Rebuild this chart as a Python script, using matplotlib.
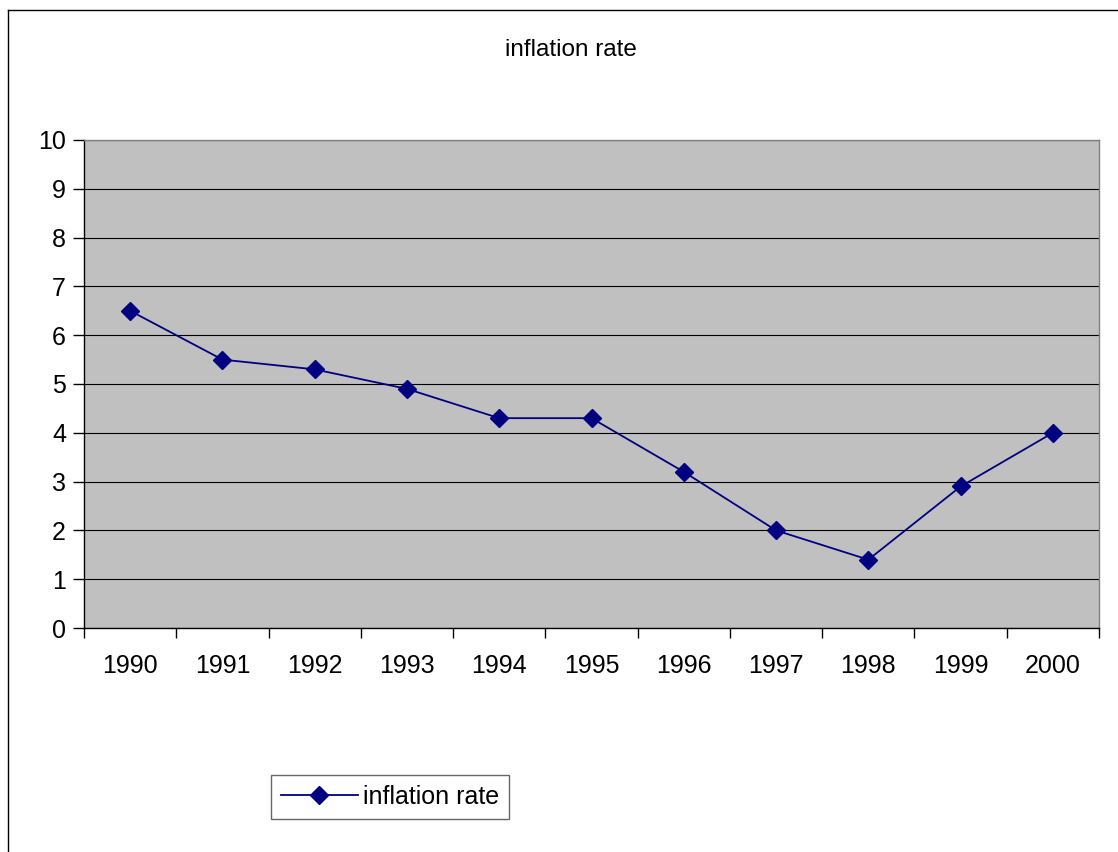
import matplotlib
matplotlib.use("Agg")
import matplotlib.pyplot as plt
from matplotlib.lines import Line2D
import numpy as np

years = ["1990", "1991", "1992", "1993", "1994", "1995", "1996", "1997", "1998", "1999", "2000"]
rates = [6.5, 5.5, 5.3, 4.9, 4.3, 4.3, 3.2, 2.0, 1.4, 2.9, 4.0]
y_ticks = list(range(0, 11))

W, H = 1118, 852
plt.rcParams["font.family"] = ["Liberation Sans", "DejaVu Sans"]

fig = plt.figure(figsize=(W / 100, H / 100), dpi=100)
fig.patch.set_facecolor("white")

# outer chart border (only left/top visible in the crop)
fig.add_artist(Line2D([7.5 / W, 7.5 / W], [0, 1 - 9.5 / H], transform=fig.transFigure, color="black", lw=1))
fig.add_artist(Line2D([7.5 / W, 1.0], [1 - 9.5 / H, 1 - 9.5 / H], transform=fig.transFigure, color="black", lw=1))

ax = fig.add_axes([84 / W, 1 - 628 / H, (1099 - 84) / W, (628 - 140) / H])
ax.set_facecolor("#c0c0c0")

x = np.arange(len(years))
line, = ax.plot(x, rates, color="#000080", lw=1.3, marker="D", markersize=9,
                markerfacecolor="#000080", markeredgecolor="#000080", label="inflation rate", zorder=3)

ax.set_xlim(-0.5, len(years) - 0.5)
ax.set_ylim(0, 10)
ax.set_yticks(y_ticks)
ax.set_yticklabels([str(v) for v in y_ticks], fontsize=18)
ax.yaxis.grid(True, color="black", lw=0.8)
ax.set_axisbelow(True)

ax.set_xticks(np.arange(len(years) + 1) - 0.5)
ax.set_xticklabels([])
ax.set_xticks(x, minor=True)
ax.set_xticklabels(years, minor=True, fontsize=18)
ax.tick_params(axis="x", which="major", direction="out", length=7, width=1, color="black")
ax.tick_params(axis="x", which="minor", length=0, pad=19)
ax.tick_params(axis="y", direction="out", length=8, width=1, color="black", pad=5)

for side in ("left", "bottom"):
    ax.spines[side].set_color("black")
    ax.spines[side].set_linewidth(1)
for side in ("top", "right"):
    ax.spines[side].set_color("#808080")
    ax.spines[side].set_linewidth(1)

fig.text(571 / W, 1 - 50 / H, "inflation rate", ha="center", va="center", fontsize=17.5)

leg = fig.legend(handles=[line], loc="center", bbox_to_anchor=(390 / W, 1 - 797 / H),
                 fontsize=18, frameon=True, fancybox=False, handlelength=3.1,
                 borderpad=0.4, handletextpad=0.2, borderaxespad=0)
leg.get_frame().set_edgecolor("#404040")
leg.get_frame().set_linewidth(1)

fig.savefig("out.png", dpi=100)
